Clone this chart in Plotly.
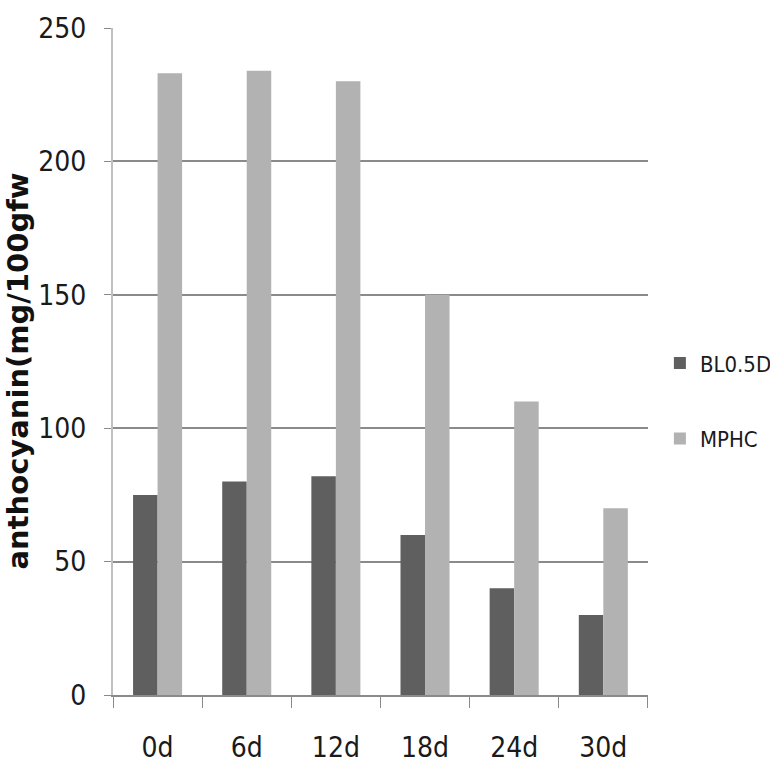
import plotly.graph_objects as go

# Storage days and anthocyanin content (mg/100 g fresh weight)
days = ["0d", "6d", "12d", "18d", "24d", "30d"]
bl05d = [75, 80, 82, 60, 40, 30]
mphc = [233, 234, 230, 150, 110, 70]
y_ticks = [0, 50, 100, 150, 200, 250]

narrow = "Liberation Sans Narrow, DejaVu Sans Condensed, Arial Narrow, sans-serif"

fig = go.Figure()
fig.add_trace(go.Bar(name="BL0.5D", x=days, y=bl05d, marker_color="#5f5f5f",
                     marker_line_width=0, legendgroup="a"))
fig.add_trace(go.Bar(name="MPHC", x=days, y=mphc, marker_color="#b2b2b2",
                     marker_line_width=0, legendgroup="b"))

fig.update_layout(
    width=770, height=776,
    margin=dict(l=113, r=121, t=23, b=81),
    paper_bgcolor="white", plot_bgcolor="white",
    barmode="group", bargap=0.45, bargroupgap=0,
    font=dict(family=narrow, size=28, color="#1a1a1a"),
    showlegend=True,
    legend=dict(xref="container", yref="container", x=0.857, y=0.483,
                xanchor="left", yanchor="middle",
                font=dict(family=narrow, size=22, color="#1a1a1a"),
                tracegroupgap=44, itemwidth=30, bgcolor="rgba(0,0,0,0)"),
    xaxis=dict(
        type="category", tickson="boundaries", ticks="outside", ticklen=11,
        tickcolor="#8a8a8a", tickwidth=1, showline=True, linecolor="#8a8a8a",
        linewidth=2, showgrid=False, ticklabelstandoff=26,
        tickfont=dict(family=narrow, size=28),
    ),
    yaxis=dict(
        range=[0, 250], tickvals=y_ticks, ticks="outside", ticklen=7,
        tickcolor="#8a8a8a", showgrid=True, gridcolor="#8a8a8a", gridwidth=2,
        showline=True, linecolor="#c0c0c0", linewidth=2, zeroline=False,
        ticklabelstandoff=12, tickfont=dict(family=narrow, size=28),
    ),
    annotations=[dict(
        text="<b>anthocyanin(mg/100gfw</b>", textangle=-90,
        xref="paper", yref="paper", x=0, y=0.485, xshift=-95,
        xanchor="center", yanchor="middle", showarrow=False,
        font=dict(family="DejaVu Sans, sans-serif", size=29, color="#111"),
    )],
)

fig.write_html("out.html")
